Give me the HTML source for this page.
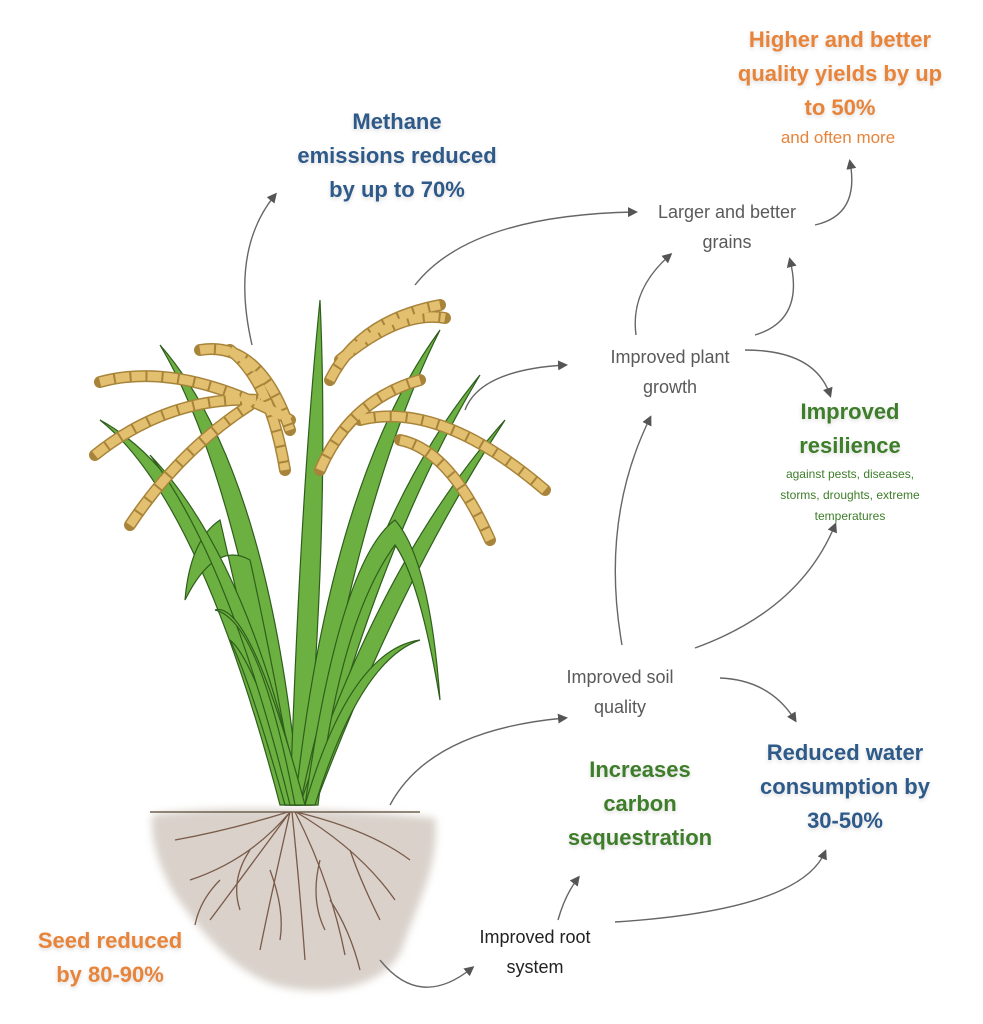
<!DOCTYPE html>
<html><head><meta charset="utf-8"><style>
html,body{margin:0;padding:0;background:#fff;}
body{width:983px;height:1024px;position:relative;overflow:hidden;font-family:"Liberation Sans",sans-serif;}
.t{position:absolute;text-align:center;white-space:nowrap;transform:translateX(-50%);}
.b{font-weight:bold;font-size:22px;line-height:34px;text-shadow:0 2px 4px rgba(0,0,0,0.15);}
.or{color:#e8843a}.bl{color:#2e5a8a}.gr{color:#3e7d2a}
.g{color:#5a5a5a;font-size:18px;line-height:30px;}
svg{position:absolute;left:0;top:0;}
</style></head><body>
<svg width="983" height="1024" viewBox="0 0 983 1024">
<defs>
<marker id="a" markerWidth="10" markerHeight="10" refX="7" refY="5" orient="auto" markerUnits="userSpaceOnUse"><path d="M0,0 L10,5 L0,10 Z" fill="#555"/></marker>
<filter id="bl"><feGaussianBlur stdDeviation="4"/></filter>
</defs>
<path d="M152,815 C210,805 330,808 435,818 C440,860 420,900 405,940 C395,985 330,1000 275,985 C230,970 200,930 175,895 C160,870 150,840 152,815 Z" fill="#d9d1ca" filter="url(#bl)"/>
<path d="M150,812 L420,812" stroke="#6d6050" stroke-width="1.5"/>
<g stroke="#7a5a48" stroke-width="1.3" fill="none">
<path d="M290,812 Q250,860 190,880"/><path d="M290,812 Q240,880 210,920"/><path d="M290,812 Q270,900 260,950"/>
<path d="M292,812 Q300,890 305,960"/><path d="M295,812 Q330,880 345,955"/><path d="M296,812 Q360,850 395,900"/>
<path d="M296,812 Q370,830 410,860"/><path d="M288,812 Q230,830 175,840"/><path d="M250,850 Q230,880 240,910"/>
<path d="M320,860 Q310,900 325,930"/><path d="M350,850 Q360,880 380,920"/><path d="M270,870 Q285,910 280,940"/>
<path d="M220,880 Q200,900 195,925"/><path d="M330,900 Q350,930 360,970"/>
</g>
<g fill="#6bb040" stroke="#2f5e1c" stroke-width="1.2">
<path d="M280,805 Q200,500 100,420 Q230,490 300,805 Z"/>
<path d="M285,805 Q240,480 160,345 Q270,470 300,805 Z"/>
<path d="M290,805 Q300,500 320,300 Q330,520 305,805 Z"/>
<path d="M295,805 Q330,480 440,330 Q355,500 310,805 Z"/>
<path d="M300,805 Q360,520 480,375 Q380,540 312,805 Z"/>
<path d="M300,805 Q380,560 505,420 Q400,580 315,805 Z"/>
<path d="M285,805 Q220,520 220,520 Q190,540 185,600 Q215,540 250,560 Q270,650 298,805 Z"/>
<path d="M305,805 Q340,560 395,520 Q430,560 440,700 Q420,580 395,545 Q340,620 318,805 Z"/>
<path d="M285,805 Q250,680 230,640 Q255,660 298,805 Z"/>
<path d="M290,805 Q230,560 150,455 Q250,560 302,805 Z"/>
<path d="M295,805 Q260,620 215,610 Q250,600 305,805 Z"/>
<path d="M305,805 Q350,650 420,640 Q360,660 315,805 Z"/>
</g>
<g fill="none" stroke-linecap="round">
<g stroke="#a8843a" stroke-width="12">
<path d="M100,382 Q180,360 290,420"/><path d="M95,455 Q170,395 260,400"/><path d="M130,525 Q180,450 250,405"/>
<path d="M200,350 Q260,340 290,430"/><path d="M330,380 Q360,320 440,305"/><path d="M340,360 Q400,310 445,318"/>
<path d="M320,470 Q350,400 420,380"/><path d="M360,420 Q440,400 545,490"/><path d="M400,440 Q450,450 490,540"/>
<path d="M230,350 Q270,380 285,470"/>
</g>
<g stroke="#e2c070" stroke-width="9" stroke-dasharray="14 2" stroke-linecap="butt">
<path d="M100,382 Q180,360 290,420"/><path d="M95,455 Q170,395 260,400"/><path d="M130,525 Q180,450 250,405"/>
<path d="M200,350 Q260,340 290,430"/><path d="M330,380 Q360,320 440,305"/><path d="M340,360 Q400,310 445,318"/>
<path d="M320,470 Q350,400 420,380"/><path d="M360,420 Q440,400 545,490"/><path d="M400,440 Q450,450 490,540"/>
<path d="M230,350 Q270,380 285,470"/>
</g>
</g>
<g fill="none" stroke="#666" stroke-width="1.4" marker-end="url(#a)">
<path d="M252,345 Q230,250 275,195"/>
<path d="M415,285 Q470,215 635,212"/>
<path d="M815,225 Q860,215 850,162"/>
<path d="M636,335 Q630,290 670,255"/>
<path d="M755,335 Q805,320 790,260"/>
<path d="M465,410 Q480,370 565,365"/>
<path d="M745,350 Q815,350 830,395"/>
<path d="M622,645 Q600,520 650,418"/>
<path d="M695,648 Q800,610 835,525"/>
<path d="M720,678 Q770,680 795,720"/>
<path d="M390,805 Q430,730 565,718"/>
<path d="M380,960 Q420,1010 472,968"/>
<path d="M558,920 Q565,895 578,878"/>
<path d="M615,922 Q800,910 825,852"/>
</g>
</svg>
<div class="t b bl" style="left:397px;top:105px">Methane<br>emissions reduced<br>by up to 70%</div>
<div class="t b or" style="left:840px;top:23px">Higher and better<br>quality yields by up<br>to 50%</div>
<div class="t or" style="left:838px;top:128px;font-size:17px">and often more</div>
<div class="t g" style="left:727px;top:197px">Larger and better<br>grains</div>
<div class="t g" style="left:670px;top:342px">Improved plant<br>growth</div>
<div class="t b gr" style="left:850px;top:395px">Improved<br>resilience</div>
<div class="t gr" style="left:850px;top:464px;font-size:12px;line-height:21px">against pests, diseases,<br>storms, droughts, extreme<br>temperatures</div>
<div class="t g" style="left:620px;top:662px">Improved soil<br>quality</div>
<div class="t b gr" style="left:640px;top:753px">Increases<br>carbon<br>sequestration</div>
<div class="t b bl" style="left:845px;top:736px">Reduced water<br>consumption by<br>30-50%</div>
<div class="t" style="left:535px;top:922px;font-size:18px;line-height:30px;color:#222">Improved root<br>system</div>
<div class="t b or" style="left:110px;top:924px">Seed reduced<br>by 80-90%</div>
</body></html>
